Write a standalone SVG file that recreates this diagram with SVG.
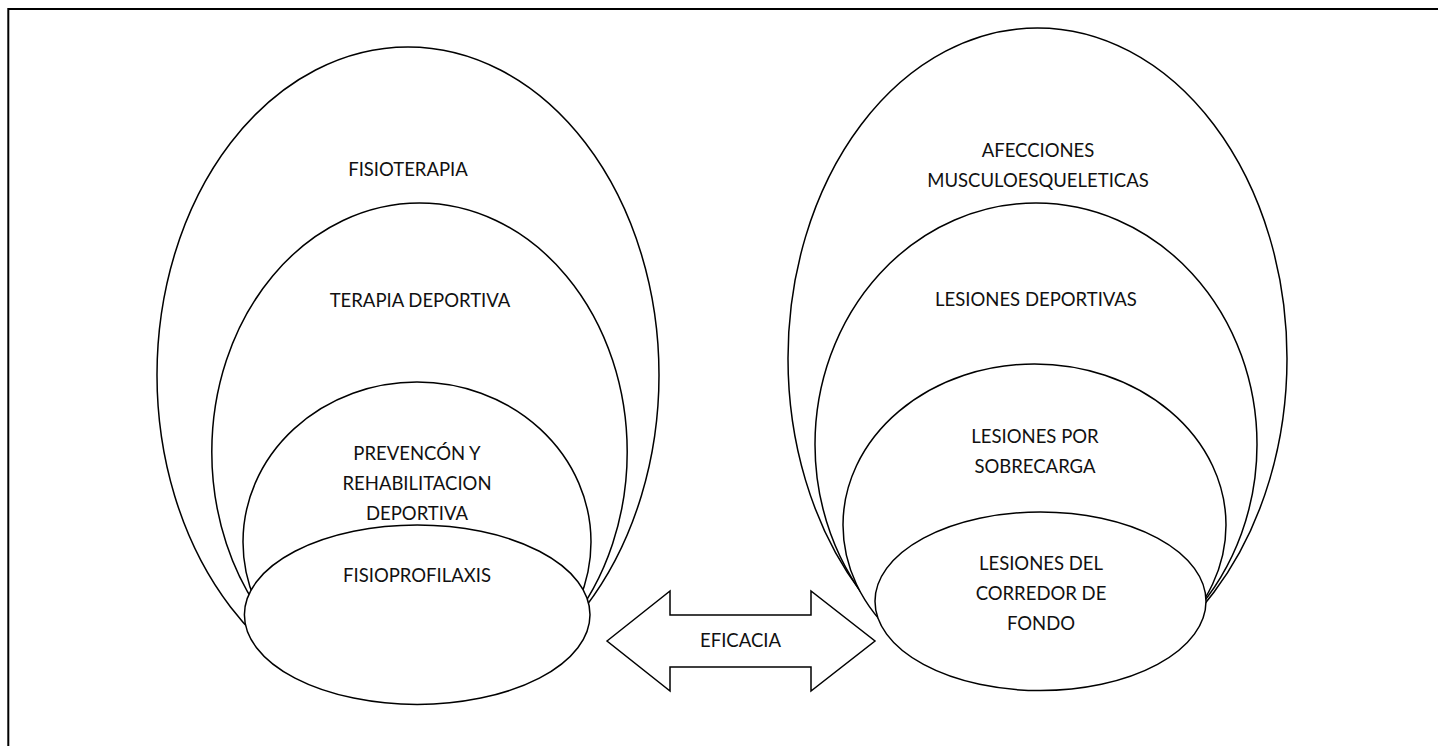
<svg xmlns="http://www.w3.org/2000/svg" width="1438" height="746" viewBox="0 0 1438 746">
<style>
.sh{fill:#fff;stroke:#000;stroke-width:1.5}
.t{font-family:Lato,"Open Sans","Liberation Sans",sans-serif;font-size:18.5px;fill:#111;text-anchor:middle}
</style>
<rect width="1438" height="746" fill="#fff"/>
<path d="M8.3,746 V9 H1438" fill="none" stroke="#000" stroke-width="2"/>

<g id="fisioterapia">
<ellipse class="sh" cx="408" cy="375" rx="251" ry="328"/>
<text class="t" x="408" y="176">FISIOTERAPIA</text>
</g>
<g id="terapia-deportiva">
<ellipse class="sh" cx="419.5" cy="452" rx="207.7" ry="249"/>
<text class="t" x="420" y="307">TERAPIA DEPORTIVA</text>
</g>
<g id="prevencion">
<ellipse class="sh" cx="417" cy="542" rx="174" ry="160"/>
<text class="t" x="417" y="460">PREVENCÓN Y</text>
<text class="t" x="417" y="490">REHABILITACION</text>
<text class="t" x="417" y="520">DEPORTIVA</text>
</g>
<g id="fisioprofilaxis">
<ellipse class="sh" cx="417.2" cy="614.7" rx="172.8" ry="89.7"/>
<text class="t" x="417" y="582">FISIOPROFILAXIS</text>
</g>

<g id="afecciones">
<ellipse class="sh" cx="1037.5" cy="358.5" rx="249.5" ry="330.5"/>
<text class="t" x="1038" y="157">AFECCIONES</text>
<text class="t" x="1038" y="187">MUSCULOESQUELETICAS</text>
</g>
<g id="lesiones-deportivas">
<ellipse class="sh" cx="1036" cy="444.5" rx="221" ry="241.5"/>
<text class="t" x="1036" y="306">LESIONES DEPORTIVAS</text>
</g>
<g id="lesiones-sobrecarga">
<ellipse class="sh" cx="1034.5" cy="525" rx="191.5" ry="161"/>
<text class="t" x="1035" y="443">LESIONES POR</text>
<text class="t" x="1035" y="473">SOBRECARGA</text>
</g>
<g id="lesiones-corredor">
<ellipse class="sh" cx="1040.5" cy="601.3" rx="165.5" ry="89.3"/>
<text class="t" x="1041" y="570">LESIONES DEL</text>
<text class="t" x="1041" y="600">CORREDOR DE</text>
<text class="t" x="1041" y="630">FONDO</text>
</g>

<g id="connectors">
<polygon class="sh" points="607,641 670,591 670,615 811,615 811,591 875,641 811,691 811,667 670,667 670,691"/>
<text class="t" x="740.5" y="647">EFICACIA</text>
</g>
</svg>
